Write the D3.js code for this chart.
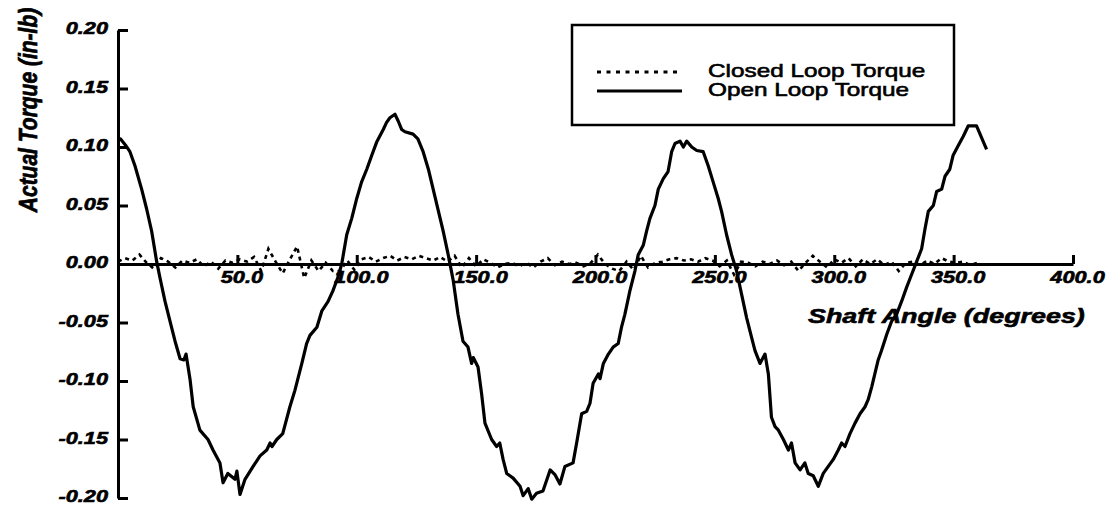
<!DOCTYPE html>
<html>
<head>
<meta charset="utf-8">
<script src="https://cdn.jsdelivr.net/npm/d3@7"></script>
<style>
  html, body { margin: 0; padding: 0; background: #fff; }
  svg { display: block; }
  text { font-family: "Liberation Sans", Arial, Helvetica, sans-serif; fill: #000; }
</style>
</head>
<body>
<svg id="chart" width="1112" height="506"></svg>
<script>
// ---------- data ----------
const xTicks = [50, 100, 150, 200, 250, 300, 350, 400];
const xTickLabels = ["50.0", "100.0", "150.0", "200.0", "250.0", "300.0", "350.0", "400.0"];
const yTicks = [-0.20, -0.15, -0.10, -0.05, 0.00, 0.05, 0.10, 0.15, 0.20];
const yTickLabels = ["-0.20", "-0.15", "-0.10", "-0.05", "0.00", "0.05", "0.10", "0.15", "0.20"];
const seriesNames = ["Closed Loop Torque", "Open Loop Torque"];

const openAngle = [0,1,3,5,7.1,9.9,12,14.1,16.2,17.6,19.7,21.8,23.9,26,27.6,28.5,30.2,31.5,34.3,37.7,39.8,42.7,44,46,49,49.8,51.1,53.2,56.6,59.5,62.3,63.7,64.5,66.5,69,72,74.1,77,79,80.4,83.3,85.4,88,90,92,93.7,95.8,97.9,100,102,104.2,106.3,108.3,111.1,112.5,113.9,116,117.4,118.8,120.2,123.6,125.6,127.8,130,132,134,136.2,138.3,140.4,142.4,144.5,146.6,148.1,148.8,150.8,152.3,153.7,156.5,158.6,159.9,161.3,162.8,165.5,168.4,169.7,171.8,173.3,175.3,178,181,183,185.1,187.2,190.6,192.1,194.2,196.3,197.7,199,201.2,201.9,203.3,205.4,207.4,209.5,210.9,212.3,214.4,216.5,217.9,220,221.4,222.8,224.9,226.3,228.4,230.4,231.9,233.3,235.4,236.8,238.2,240.3,242.4,245.1,247.2,249.3,251.4,252.8,254.9,257,259.1,261.2,263.3,265.4,266.8,268.9,271,272.4,273.7,275.2,276.6,278.7,280.8,282.1,283.6,285.7,287.7,289.1,291.2,293.3,295.4,297.5,299.6,301.7,303.1,304.5,306.6,308.7,310.8,312.9,314.2,315.7,317,318.4,319.8,322,324,326.1,328.2,330.3,332.4,334.5,336.6,338,339.4,341.5,342.9,345,346.4,348.4,349.8,351.9,354,356.1,359.6,363.8];
const openTorque = [0.106,0.107,0.102,0.096,0.084,0.064,0.047,0.028,0.002,-0.012,-0.032,-0.049,-0.066,-0.081,-0.082,-0.077,-0.099,-0.122,-0.142,-0.150,-0.159,-0.170,-0.187,-0.179,-0.184,-0.177,-0.197,-0.184,-0.173,-0.164,-0.159,-0.153,-0.156,-0.150,-0.145,-0.122,-0.108,-0.085,-0.068,-0.061,-0.054,-0.040,-0.032,-0.023,-0.012,0.000,0.025,0.039,0.056,0.070,0.081,0.093,0.104,0.115,0.121,0.125,0.128,0.122,0.115,0.113,0.111,0.107,0.096,0.081,0.064,0.047,0.028,0.008,-0.014,-0.043,-0.066,-0.071,-0.085,-0.080,-0.088,-0.111,-0.136,-0.150,-0.156,-0.153,-0.167,-0.179,-0.183,-0.190,-0.198,-0.192,-0.201,-0.196,-0.194,-0.176,-0.180,-0.188,-0.173,-0.170,-0.153,-0.128,-0.126,-0.119,-0.102,-0.094,-0.098,-0.085,-0.077,-0.071,-0.068,-0.054,-0.043,-0.023,-0.006,0.008,0.016,0.028,0.039,0.050,0.064,0.073,0.079,0.096,0.103,0.105,0.100,0.105,0.100,0.097,0.096,0.084,0.070,0.056,0.045,0.025,0.008,-0.006,-0.026,-0.046,-0.063,-0.074,-0.085,-0.077,-0.094,-0.131,-0.139,-0.142,-0.150,-0.159,-0.153,-0.170,-0.176,-0.170,-0.179,-0.181,-0.190,-0.179,-0.173,-0.167,-0.159,-0.153,-0.156,-0.145,-0.136,-0.128,-0.122,-0.116,-0.105,-0.094,-0.082,-0.074,-0.060,-0.049,-0.043,-0.032,-0.020,-0.009,0.002,0.013,0.030,0.045,0.050,0.062,0.064,0.075,0.081,0.093,0.101,0.109,0.118,0.118,0.098];

const closedAngle = [0,3,6,9,12,15,18,21,24,27,30,33,36,39,42,45,48,51,54,57,60,63,66,69,72,75,78,81,84,87,90,93,96,99,102,105,108,111,114,117,120,123,126,129,132,135,138,141,144,147,150,153,156,159,162,165,168,171,174,177,180,183,186,189,192,195,198,201,204,207,210,213,216,219,222,225,228,231,234,237,240,243,246,249,252,255,258,261,264,267,270,273,276,279,282,285,288,291,294,297,300,303,306,309,312,315,318,321,324,327,330,333,336,339,342,345,348,351,354,357,360];
const closedTorque = [0.002,0.005,0.003,0.008,0.001,-0.004,0.005,0.002,-0.003,0.003,0.001,0.004,-0.002,0.002,-0.004,0.003,0.001,0.004,0.002,0.006,-0.006,0.013,0.002,-0.008,0.004,0.015,-0.012,0.003,-0.006,0.001,-0.006,-0.006,0.003,-0.005,0.004,0.006,0.002,0.005,0.007,0.003,0.006,0.004,0.007,0.005,0.003,0.006,0.002,0.007,-0.003,0.005,-0.002,0.004,0.001,-0.003,0.000,0.001,-0.002,0.001,-0.003,0.002,0.005,-0.001,0.002,0.000,0.001,-0.002,0.001,0.008,0.000,-0.004,-0.006,0.002,-0.005,0.007,-0.003,0.001,0.002,0.004,0.005,0.003,0.004,0.002,0.005,0.003,-0.002,0.003,-0.009,0.002,0.001,-0.002,0.002,0.000,0.003,-0.001,0.002,-0.006,0.001,0.007,0.002,-0.003,0.004,0.001,0.005,-0.002,0.004,0.000,0.004,-0.001,0.002,-0.006,0.001,0.002,-0.001,0.003,0.000,0.005,0.002,0.001,0.002,-0.001,0.001];

// ---------- setup ----------
const svg = d3.select("#chart");
const STRETCH = 1.28;
const x = d3.scaleLinear().domain([0, 400]).range([118, 1073]);
const y = d3.scaleLinear().domain([-0.2, 0.2]).range([498, 30]);

function stretch(sel, f) {
  sel.each(function() {
    const w = this.getComputedTextLength();
    d3.select(this).attr("textLength", w * (f || STRETCH)).attr("lengthAdjust", "spacingAndGlyphs");
  });
}
function boldItalic(sel, size) {
  sel.attr("font-size", size).attr("font-weight", "bold").attr("font-style", "italic")
    .attr("fill", "#000").attr("stroke", "#000").attr("stroke-width", 0.6)
    .attr("font-family", "Liberation Sans, Arial, sans-serif");
}

// y axis
const yAxis = d3.axisLeft(y)
  .tickValues(yTicks)
  .tickFormat((d, i) => yTickLabels[i])
  .tickSizeInner(-10).tickSizeOuter(0).tickPadding(10);
const gy = svg.append("g").attr("transform", `translate(${x(0)},0)`).call(yAxis);
gy.select(".domain").attr("stroke", "#000").attr("stroke-width", 3);
gy.selectAll(".tick line").attr("stroke", "#000").attr("stroke-width", 3);
boldItalic(gy.selectAll(".tick text"), 17);
gy.selectAll(".tick text").attr("dy", "0.22em");
stretch(gy.selectAll(".tick text"));

// x axis
const xAxis = d3.axisBottom(x)
  .tickValues(xTicks)
  .tickFormat((d, i) => xTickLabels[i])
  .tickSizeInner(-9).tickSizeOuter(0).tickPadding(7);
const gx = svg.append("g").attr("transform", `translate(0,${y(0)})`).call(xAxis);
gx.select(".domain").attr("stroke", "#000").attr("stroke-width", 3);
gx.selectAll(".tick line").attr("stroke", "#000").attr("stroke-width", 3);
boldItalic(gx.selectAll(".tick text"), 17);
gx.selectAll(".tick text").attr("dx", 4);
stretch(gx.selectAll(".tick text"));

// axis titles
const yt = svg.append("text")
  .attr("transform", "translate(37,110) scale(1.22,1) rotate(-90)")
  .attr("text-anchor", "middle")
  .text("Actual Torque (in-lb)");
boldItalic(yt, 21);

const xt = svg.append("text")
  .attr("x", 808).attr("y", 323)
  .text("Shaft Angle (degrees)");
boldItalic(xt, 21);
stretch(xt);

// series
const closedData = closedAngle.map((a, i) => [a, closedTorque[i]]);
const openData = openAngle.map((a, i) => [a, openTorque[i]]);
const line = d3.line().x(d => x(d[0])).y(d => y(d[1]));

svg.append("path").datum(closedData)
  .attr("d", line).attr("fill", "none")
  .attr("stroke", "#000").attr("stroke-width", 2.6)
  .attr("stroke-dasharray", "4,4");

svg.append("path").datum(openData)
  .attr("d", line).attr("fill", "none")
  .attr("stroke", "#000").attr("stroke-width", 3.2)
  .attr("stroke-linejoin", "round");

// legend
const lg = svg.append("g");
lg.append("rect").attr("x", 572).attr("y", 25).attr("width", 382).attr("height", 100)
  .attr("fill", "#fff").attr("stroke", "#000").attr("stroke-width", 2.5);
lg.append("line").attr("x1", 597).attr("x2", 679).attr("y1", 72).attr("y2", 72)
  .attr("stroke", "#000").attr("stroke-width", 3).attr("stroke-dasharray", "4,5.5");
lg.append("line").attr("x1", 597).attr("x2", 682).attr("y1", 91).attr("y2", 91)
  .attr("stroke", "#000").attr("stroke-width", 3);
const lt = lg.selectAll("text.leg").data(seriesNames).enter().append("text")
  .attr("class", "leg")
  .attr("x", 708).attr("y", (d, i) => 77 + i * 19)
  .attr("font-size", 19)
  .attr("stroke", "#000").attr("stroke-width", 0.6)
  .text(d => d);
stretch(lt);
</script>
</body>
</html>
